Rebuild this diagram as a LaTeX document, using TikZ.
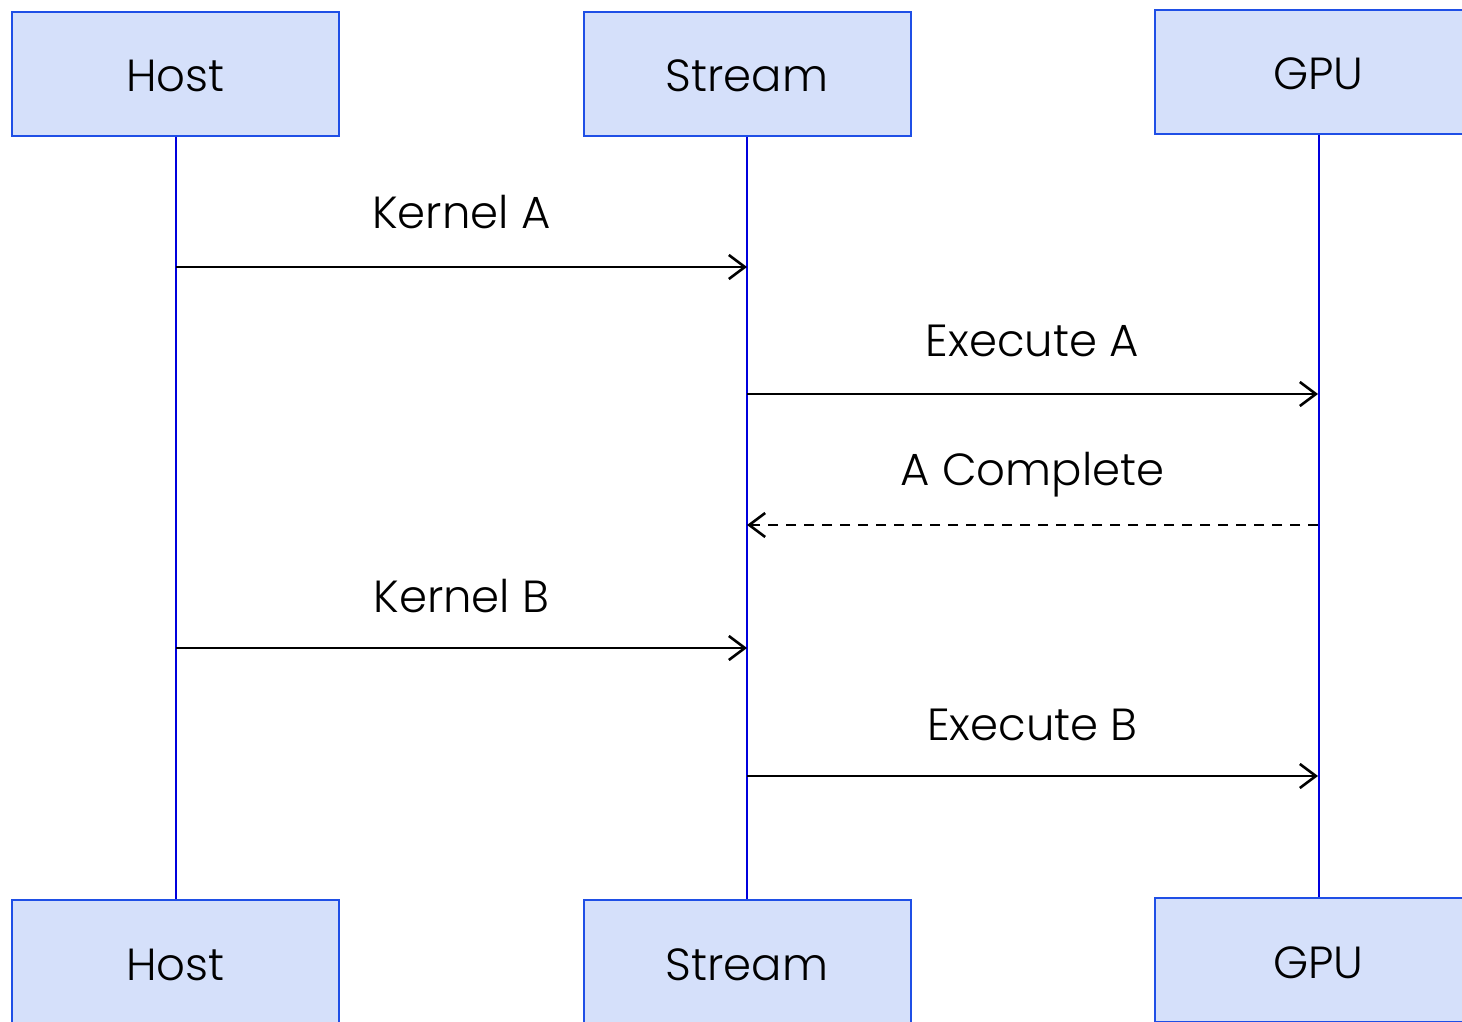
\documentclass[tikz,border=0pt]{standalone}
\usepackage{fontspec}
\setmainfont{Poppins Light}
\usetikzlibrary{arrows.meta}
\definecolor{boxfill}{HTML}{D5E0FA}
\definecolor{boxline}{HTML}{1F4FE6}
\definecolor{lifeblue}{HTML}{0000DD}
\begin{document}
\begin{tikzpicture}[x=1pt,y=-1pt,
  actor/.style={draw=boxline,line width=2pt,fill=boxfill,minimum width=327pt,minimum height=124pt,inner sep=0pt},
  actortext/.style={anchor=base,inner sep=0pt,font=\fontsize{45}{50}\selectfont},
  life/.style={draw=lifeblue,line width=2pt},
  msg/.style={draw=black,line width=2.6pt,-{Straight Barb[length=16pt,width=24pt,line width=2.6pt]}},
  reply/.style={msg,dash pattern=on 10pt off 8pt},
  lbl/.style={anchor=base,font=\fontsize{45}{50}\selectfont,inner sep=0pt}]
\useasboundingbox (0,0) rectangle (1462,1022);
% participants, top row
\node[actor] (hostT) at (175.5,74) {};
\node[actor] (streamT) at (747,74) {};
\node[actor] (gpuT) at (1318.5,72) {};
% participants, bottom row
\node[actor] (hostB) at (175.5,962) {};
\node[actor] (streamB) at (747,962) {};
\node[actor] (gpuB) at (1318.5,960) {};
% participant names
\node[actortext] (hostTt) at (175.5,92) {Host};
\node[actortext] (streamTt) at (747,92) {Stream};
\node[actortext] (gpuTt) at (1318.5,90) {GPU};
\node[actortext] (hostBt) at (175.5,980) {Host};
\node[actortext] (streamBt) at (747,980) {Stream};
\node[actortext] (gpuBt) at (1318.5,978) {GPU};
% lifelines
\draw[life] (hostT.south) -- (hostB.north);
\draw[life] (streamT.south) -- (streamB.north);
\draw[life] (gpuT.south) -- (gpuB.north);
% message anchor points on the lifelines
\coordinate (h1) at (176,267);   \coordinate (s1) at (747,267);
\coordinate (s2) at (747,394);   \coordinate (g2) at (1318,394);
\coordinate (g3) at (1318,525);  \coordinate (s3) at (747,525);
\coordinate (h4) at (176,648);   \coordinate (s4) at (747,648);
\coordinate (s5) at (747,776);   \coordinate (g5) at (1318,776);
% messages
\draw[msg] (h1) -- (s1);
\node[lbl] (lA) at (461.5,228) {Kernel A};
\draw[msg] (s2) -- (g2);
\node[lbl] (lEA) at (1032.5,356) {Execute A};
\draw[reply] (g3) -- (s3);
\node[lbl] (lCA) at (1032.5,485) {A Complete};
\draw[msg] (h4) -- (s4);
\node[lbl] (lB) at (461.5,612) {Kernel B};
\draw[msg] (s5) -- (g5);
\node[lbl] (lEB) at (1032.5,740) {Execute B};
\end{tikzpicture}
\end{document}
